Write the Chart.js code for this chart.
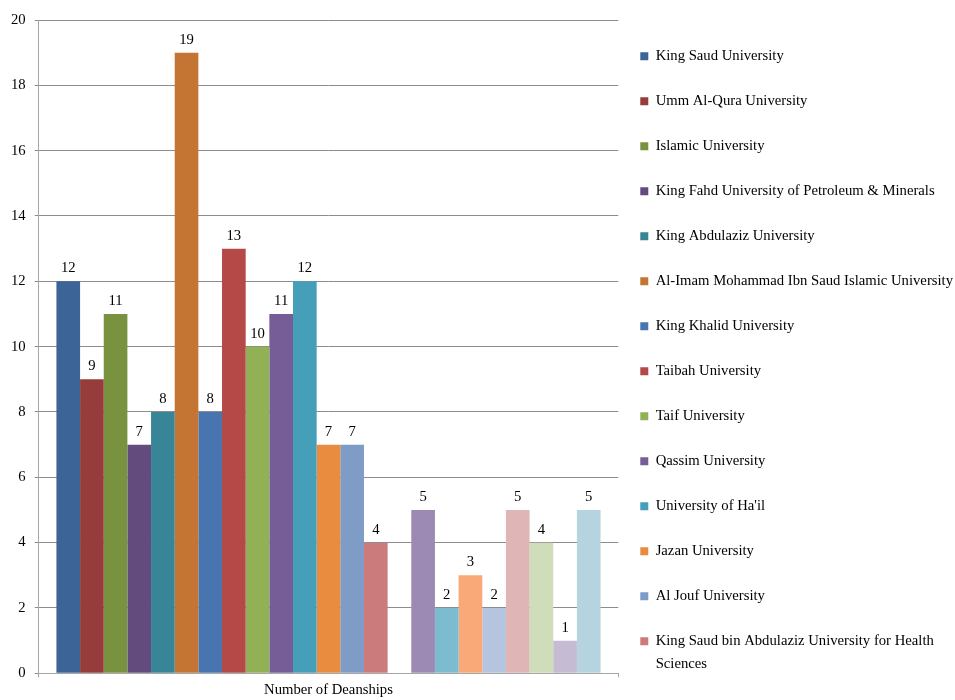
<!DOCTYPE html>
<html>
<head>
<meta charset="utf-8">
<title>Number of Deanships</title>
<script src="https://cdn.jsdelivr.net/npm/chart.js@4.4.1/dist/chart.umd.min.js"></script>
<style>
  html, body { margin: 0; padding: 0; background: #fff; }
  #wrap { width: 955px; height: 700px; position: relative; }
</style>
</head>
<body>
<div id="wrap"><canvas id="myChart"></canvas></div>
<script>
var categories = ['Number of Deanships'];

var universities = [
  'King Saud University',
  'Umm Al-Qura University',
  'Islamic University',
  'King Fahd University of Petroleum & Minerals',
  'King Abdulaziz University',
  'Al-Imam Mohammad Ibn Saud Islamic University',
  'King Khalid University',
  'Taibah University',
  'Taif University',
  'Qassim University',
  "University of Ha'il",
  'Jazan University',
  'Al Jouf University',
  'King Saud bin Abdulaziz University for Health Sciences',
  'King Faisal University',
  'Najran University',
  'Northern Borders University',
  'University of Tabuk',
  'Al Baha University',
  'University of Dammam',
  'Salman bin Abdulaziz University',
  'Shaqra University',
  'Majmaah University'
];

// one value per university (the 15th slot is empty in the picture)
var deanships = [12, 9, 11, 7, 8, 19, 8, 13, 10, 11, 12, 7, 7, 4, null, 5, 2, 3, 2, 5, 4, 1, 5];

var barColors = [
  '#3c6496', '#963c3b', '#79923f', '#634c7d', '#378597', '#c47534',
  '#4875af', '#b44948', '#92b157', '#775d97', '#459fb8', '#ea8c40',
  '#7f9cc7', '#cb7b7b', '#b3cb89', '#9d8ab4', '#7cbbd0', '#f8a977',
  '#b5c4df', '#dfb5b5', '#cfddba', '#c5bbd3', '#b6d4df'
];

var yMin = 0, yMax = 20, yStep = 2;
var legendCount = 14;   // only the first 14 entries fit in the legend

var fontFamily = "'Liberation Serif', 'Times New Roman', serif";
var fontSize = 14.7;

var measureCtx = document.createElement('canvas').getContext('2d');
function wrapText(text, maxWidth){
  measureCtx.font = fontSize + 'px ' + fontFamily;
  var words = text.split(' ');
  var lines = [];
  var line = '';
  for (var i = 0; i < words.length; i++){
    var test = line ? line + ' ' + words[i] : words[i];
    if (line && measureCtx.measureText(test).width > maxWidth){
      lines.push(line);
      line = words[i];
    } else {
      line = test;
    }
  }
  lines.push(line);
  return lines;
}

// numbers above the bars
var valueLabels = {
  id: 'valueLabels',
  afterDatasetsDraw: function(chart){
    var ctx = chart.ctx;
    ctx.save();
    ctx.font = fontSize + 'px ' + fontFamily;
    ctx.fillStyle = '#000';
    ctx.textAlign = 'center';
    ctx.textBaseline = 'alphabetic';
    chart.data.datasets.forEach(function(ds, i){
      var meta = chart.getDatasetMeta(i);
      meta.data.forEach(function(bar, j){
        var v = ds.data[j];
        if (v === null || v === undefined) return;
        ctx.fillText(String(v), bar.x, bar.y - 9);
      });
    });
    ctx.restore();
  }
};

var datasets = [];
for (var i = 0; i < universities.length; i++){
  datasets.push({
    label: universities[i],
    data: [deanships[i]],
    backgroundColor: barColors[i],
    borderWidth: 0
  });
}

var ctx = document.getElementById('myChart');
var myChart = new Chart(ctx, {
  type: 'bar',
  data: {
    labels: categories,
    datasets: datasets
  },
  plugins: [valueLabels],
  options: {
    responsive: true,
    maintainAspectRatio: false,
    animation: false,
    layout: {
      padding: { left: 2, top: 20, right: -8, bottom: -2 }
    },
    datasets: {
      bar: {
        categoryPercentage: 0.9388,
        barPercentage: 1
      }
    },
    scales: {
      x: {
        grid: {
          display: true,
          drawOnChartArea: false,
          drawTicks: true,
          tickLength: 4,
          color: '#a6a6a6'
        },
        border: { color: '#a6a6a6' },
        ticks: {
          color: '#000',
          padding: 5,
          font: { family: fontFamily, size: fontSize, lineHeight: 1.0 }
        }
      },
      y: {
        min: yMin,
        max: yMax,
        ticks: {
          stepSize: yStep,
          color: '#000',
          padding: 9,
          font: { family: fontFamily, size: fontSize }
        },
        grid: {
          color: '#8c8c8c',
          tickLength: 4
        },
        border: { color: '#a6a6a6' }
      }
    },
    plugins: {
      title: { display: false },
      tooltip: { enabled: false },
      legend: {
        position: 'right',
        align: 'end',
        maxWidth: 420,
        labels: {
          boxWidth: 8,
          boxHeight: 8,
          padding: 22,
          color: '#000',
          font: { family: fontFamily, size: fontSize, lineHeight: '23px' },
          filter: function(item){
            return item.datasetIndex < legendCount;
          },
          generateLabels: function(chart){
            var items = Chart.defaults.plugins.legend.labels.generateLabels(chart);
            items.forEach(function(it){
              it.text = wrapText(it.text, 310);
            });
            return items;
          }
        }
      }
    }
  }
});
</script>
</body>
</html>
